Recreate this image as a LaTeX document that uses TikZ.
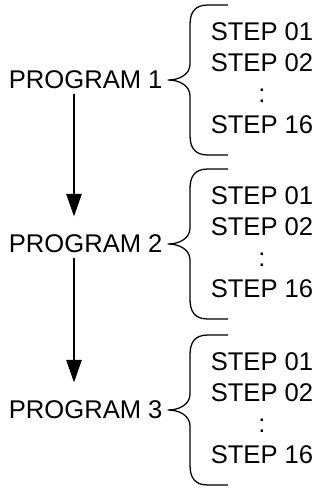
\documentclass[tikz,border=0pt]{standalone}
\usepackage{fontspec}
\setmainfont{Liberation Sans}
\usetikzlibrary{arrows.meta}

\begin{document}
\begin{tikzpicture}[x=0.025cm, y=-0.025cm,
    every node/.style={font=\fontsize{18.2}{22}\selectfont},
    prog/.style={inner sep=3pt},
    etapes/.style={align=center, inner sep=0pt},
    accolade/.style={line width=0.9pt, line join=round},
    fleche/.style={line width=0.8pt, -{Triangle[length=16pt,width=11pt]}, shorten >=10pt}]
\useasboundingbox (0,0) rectangle (320,488);
% colonne des fleches
\coordinate (ax) at (74,0);

% programmes, accolades et etapes
\foreach \i/\m in {1/80,2/244,3/410}{
  \node[prog, anchor=east] (p\i) at (167,\m) {PROGRAM \i};
  \node[etapes] (s\i) at (262,\m-2) {STEP 01\\STEP 02\\:\\STEP 16};
  \draw[accolade] (228,\m-75) -- (208,\m-75)
    .. controls (195,\m-75) and (190,\m-68) .. (190,\m-55) -- (190,\m-16)
    .. controls (190,\m-6) and (180,\m) .. (168,\m)
    .. controls (180,\m) and (190,\m+6) .. (190,\m+16) -- (190,\m+55)
    .. controls (190,\m+68) and (195,\m+75) .. (208,\m+75) -- (228,\m+75);
}

% fleches entre programmes
\draw[fleche] (p1.south -| ax) -- (p2.north -| ax);
\draw[fleche] (p2.south -| ax) -- (p3.north -| ax);
\end{tikzpicture}
\end{document}
